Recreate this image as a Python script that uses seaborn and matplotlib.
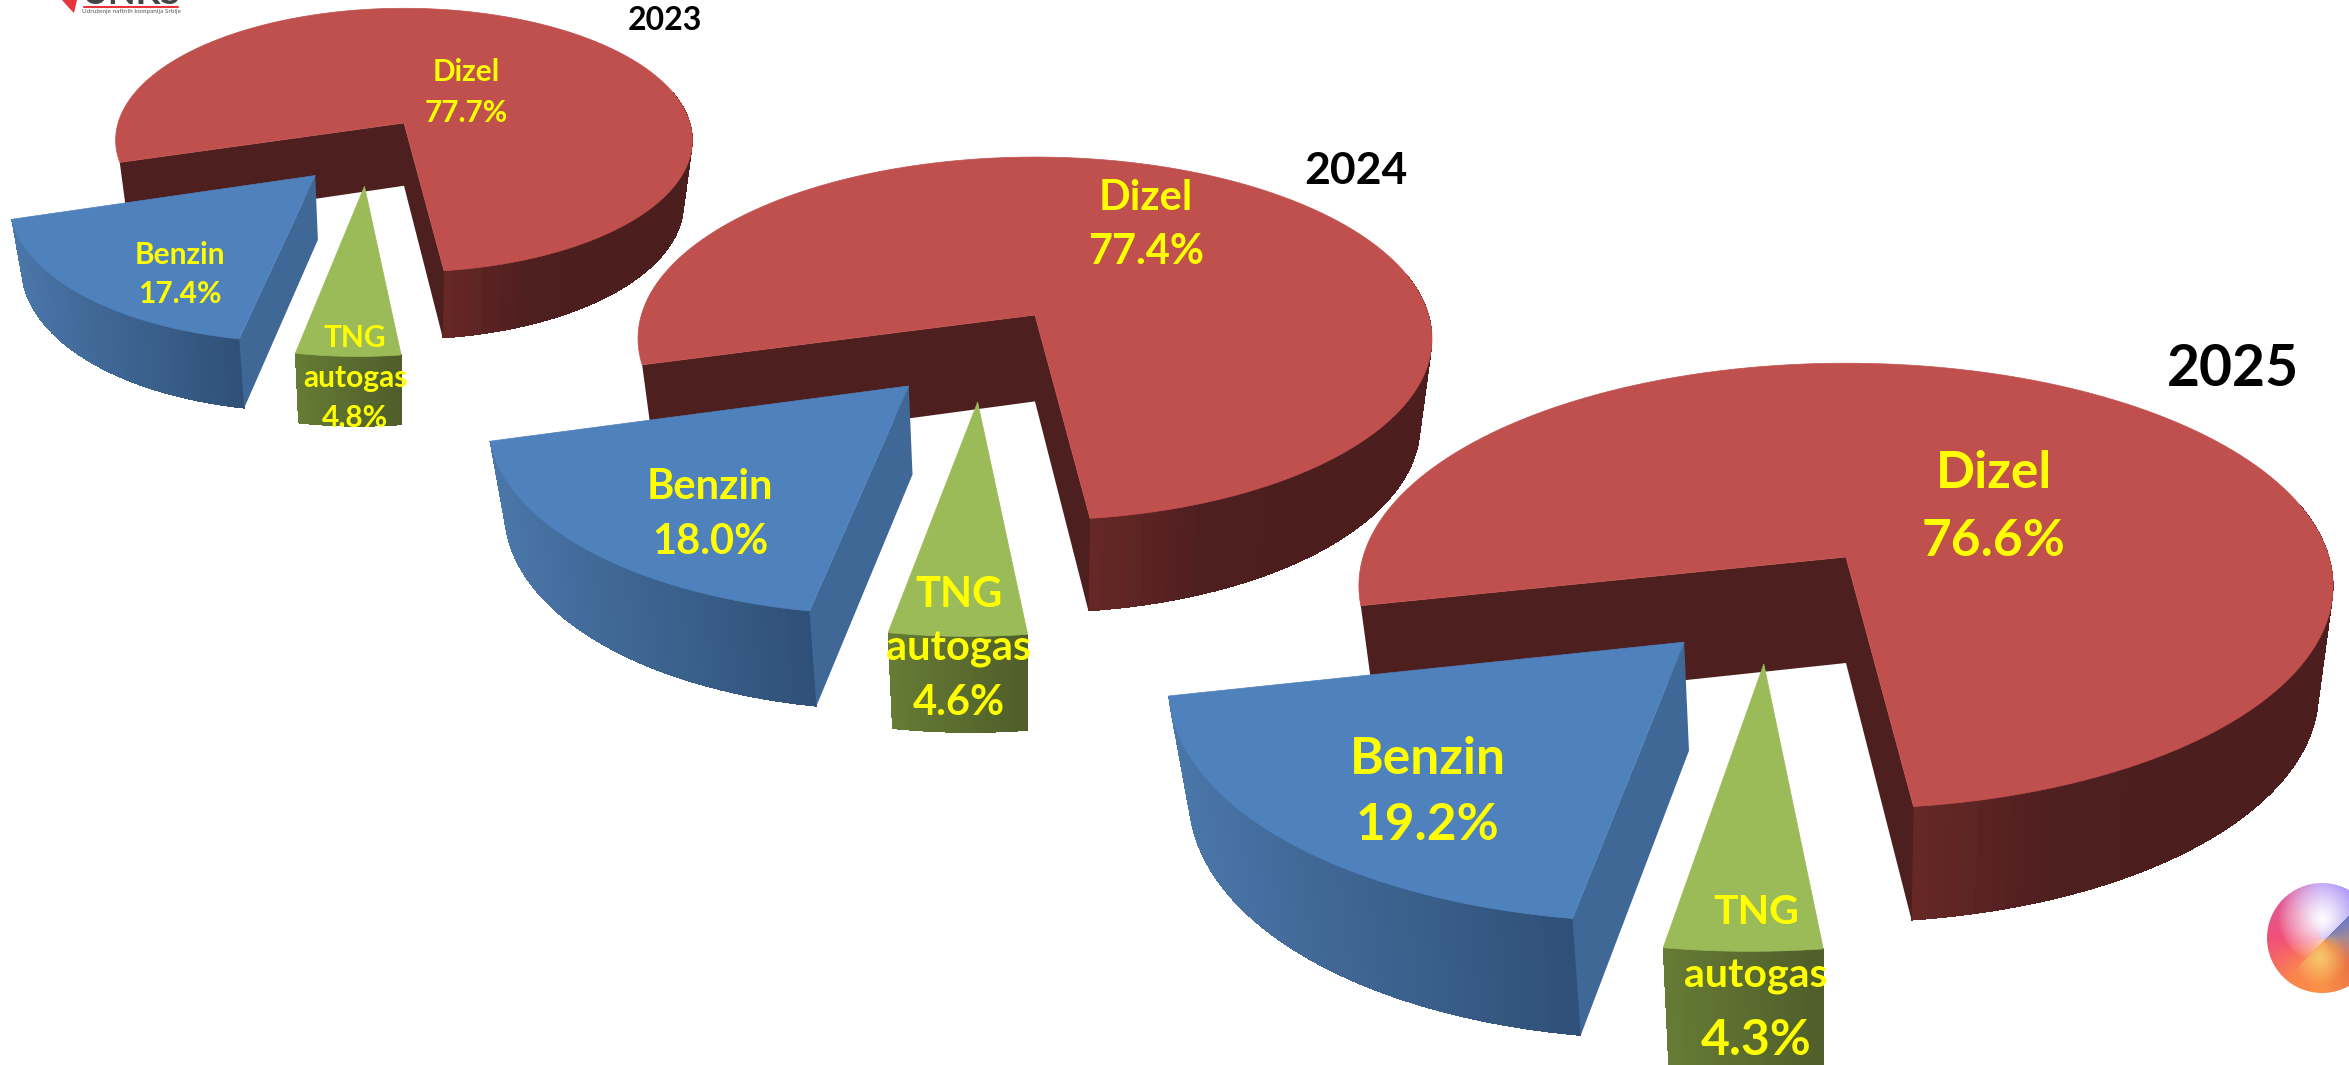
import numpy as np
import seaborn as sns
import matplotlib
matplotlib.use('Agg')
import matplotlib.pyplot as plt
from matplotlib.patches import Circle, Polygon

# Shares of fuel consumption per year
years = ['2023', '2024', '2025']
fuels = ['Dizel', 'Benzin', 'TNG\nautogas']
dizel = [77.7, 77.4, 76.6]
benzin = [17.4, 18.0, 19.2]
tng = [4.8, 4.6, 4.3]

sns.set_theme(style='white')
plt.rcParams['font.family'] = ['Lato', 'DejaVu Sans']

W, H = 2349, 1065
fig = plt.figure(figsize=(W / 100, H / 100), dpi=100)
ax = fig.add_axes([0, 0, 1, 1])
ax.set_xlim(0, W)
ax.set_ylim(H, 0)
ax.axis('off')

# hidden axes, only used to let matplotlib work out the wedge angles
pie_ax = fig.add_axes([0, 0, 0.01, 0.01])
pie_ax.set_visible(False)

top_cols = sns.color_palette(['#C0504D', '#4F81BD', '#9BBB59'])
cut_cols = sns.color_palette(['#4E1F1F', '#3F6896', '#6A7F3A'])
arc_cols = [sns.blend_palette(['#662825', '#4E1F1F', '#4C1E1E', '#4C1E1E'], 40),
            sns.blend_palette(['#4A76A8', '#2F5078'], 40),
            sns.blend_palette(['#667B35', '#4F5E2A'], 40)]

# where each pie sits: apex x, apex y, scale against the 2025 pie
pies = {'2023': (404, 123, 0.592), '2024': (1035, 315, 0.815), '2025': (1846, 557, 1.0)}
# slice offsets in the pie plane
offsets = {'2023': [(0, 0), (-0.295, -0.385), (-0.13, -0.459)],
           '2024': [(0, 0), (-0.305, -0.378), (-0.137, -0.459)],
           '2025': [(0, 0), (-0.319, -0.37), (-0.16, -0.459)]}
year_pos = {'2023': (665, 20, 23), '2024': (1356, 171, 32), '2025': (2233, 369, 41)}
# first line of each label (x, y), line pitch, font size, font size of the percent line
label_pos = {'2023': [(466, 70, 41, 21.5, 21.5), (180, 253, 39, 21.5, 21.5), (355, 336, 40, 21.5, 21.5)],
             '2024': [(1146, 195, 54, 30, 30), (710, 484, 55, 30, 30), (959, 592, 54, 30, 30)],
             '2025': [(1994, 470, 68, 37, 37), (1428, 756, 66, 37, 37), (1756, 909, 64, 29.5, 36)]}


def project(u, v, apex, scale, low=False):
    # flat disc seen in perspective; low=True gives the underside of the disc
    k, a, b, depth = 0.13, 483, 219, 106
    w = 1 + k * v
    x = a * u / w
    y = -b * v / w
    if low:
        x = x * 0.97
        y = y * 1.03 + depth
    return apex[0] + scale * x, apex[1] + scale * y


def draw_slice(i, th1, th2, apex, scale, offset):
    du, dv = offset
    t = np.radians(np.linspace(th1, th2, 160))
    u = np.cos(t) + du
    v = np.sin(t) + dv
    tx, ty = project(u, v, apex, scale)
    bx, by = project(u, v, apex, scale, low=True)
    cx, cy = project(du, dv, apex, scale)
    lx, ly = project(du, dv, apex, scale, low=True)

    # outer rim, only where it faces the viewer
    seen = np.where(t <= np.radians(15))[0] if i == 0 else np.arange(len(t))
    xmin, xmax = bx[seen].min(), bx[seen].max()
    # solid rim underneath so the strips leave no seams
    ax.fill(np.r_[tx[seen], bx[seen][::-1]], np.r_[ty[seen], by[seen][::-1]], color=arc_cols[i][25], lw=0)
    for j in seen[:-1]:
        pos = (0.5 * (bx[j] + bx[j + 1]) - xmin) / (xmax - xmin)
        col = arc_cols[i][min(int(pos * 40), 39)]
        ax.add_patch(Polygon([(tx[j], ty[j]), (tx[j + 1], ty[j + 1]), (bx[j + 1], by[j + 1]), (bx[j], by[j])],
                             fc=col, ec='none', antialiased=False))

    # radial cut faces
    if i == 0:
        ax.add_patch(Polygon([(tx[0], ty[0]), (cx, cy), (lx, ly), (bx[0], by[0])], fc=cut_cols[0], ec='none'))
        ax.add_patch(Polygon([(tx[-1], ty[-1]), (cx, cy), (lx, ly), (bx[-1], by[-1])], fc=cut_cols[0], ec='none'))
    if i == 1:
        ax.add_patch(Polygon([(tx[-1], ty[-1]), (cx, cy), (lx, ly), (bx[-1], by[-1])], fc=cut_cols[1], ec='none'))

    # top face
    ax.fill(np.r_[cx, tx], np.r_[cy, ty], color=top_cols[i], lw=0.5)


for n, year in enumerate(years):
    shares = [dizel[n], benzin[n], tng[n]]
    wedges, _ = pie_ax.pie(shares, startangle=-83, counterclock=True, normalize=True)
    x0, y0, scale = pies[year]
    for i, wedge in enumerate(wedges):
        draw_slice(i, wedge.theta1, wedge.theta2, (x0, y0), scale, offsets[year][i])
    for i, fuel in enumerate(fuels):
        lx, ly, pitch, fs, fs_pct = label_pos[year][i]
        lines = fuel.split('\n') + [f'{shares[i]:.1f}%']
        for m, line in enumerate(lines):
            size = fs_pct if m == len(lines) - 1 else fs
            # y is the middle of the capitals, so go down to the baseline
            ax.text(lx, ly + m * pitch + 0.36 * size * 100 / 72, line, color='#FFFF00', fontsize=size,
                    fontweight='bold', ha='center', va='baseline')
    yx, yy, ys = year_pos[year]
    ax.text(yx, yy, year, color='black', fontsize=ys, fontweight='bold', ha='center', va='center')

# cropped logo at the top
ax.fill([62, 77, 74, 70], [0, 0, 13, 9], color='#E8343C', lw=0)
ax.text(131, 3.5, 'UNKS', fontsize=26, fontweight='bold', color='#444444', ha='center', va='baseline')
ax.plot([84, 178], [6.5, 6.5], color='#E8343C', lw=1.5)
ax.text(131, 12, 'Udruženje naftnih kompanija Srbije', fontsize=4.6, color='#555555', ha='center', va='center')

# colour wheel icon, bottom right
yy, xx = np.mgrid[883:994, 2267:2349]
dx, dy = (xx - 2322) / 55, (yy - 938) / 55
ang = np.degrees(np.arctan2(-dy, dx)) % 360
up_stops = np.array([0, 45, 90, 135, 180, 225, 270, 360.0])
up_rgb = np.array([[140, 115, 240], [140, 115, 240], [175, 140, 245], [225, 90, 150], [240, 80, 120],
                   [250, 125, 85], [250, 140, 70], [140, 115, 240]], float)
low_stops = np.array([0, 45, 225, 270, 315, 360.0])
low_rgb = np.array([[165, 140, 150], [105, 120, 200], [250, 130, 80], [250, 145, 70], [235, 115, 70],
                    [165, 140, 150]], float)
upper = np.stack([np.interp(ang, up_stops, up_rgb[:, c]) for c in range(3)], axis=-1)
lower = np.stack([np.interp(ang, low_stops, low_rgb[:, c]) for c in range(3)], axis=-1)
glow = np.clip(1 - np.hypot(dx, dy + 0.36) / 0.8, 0, 1)[..., None] ** 0.8
upper = upper * (1 - glow) + 255 * glow
warm = np.clip(1 - np.hypot(dx + 0.05, dy - 0.35) / 0.5, 0, 1)[..., None]
lower = lower * (1 - warm) + np.array([245, 200, 110.0]) * warm
img = np.where(((dy + dx) > 0.06)[..., None], lower, upper)
im = ax.imshow(img.astype('uint8'), extent=(2267, 2349, 994, 883), zorder=5, aspect='auto')
im.set_clip_path(Circle((2322, 938), 55, transform=ax.transData))
ax.set_xlim(0, W)
ax.set_ylim(H, 0)

fig.savefig('out.png', dpi=100, facecolor='white')
